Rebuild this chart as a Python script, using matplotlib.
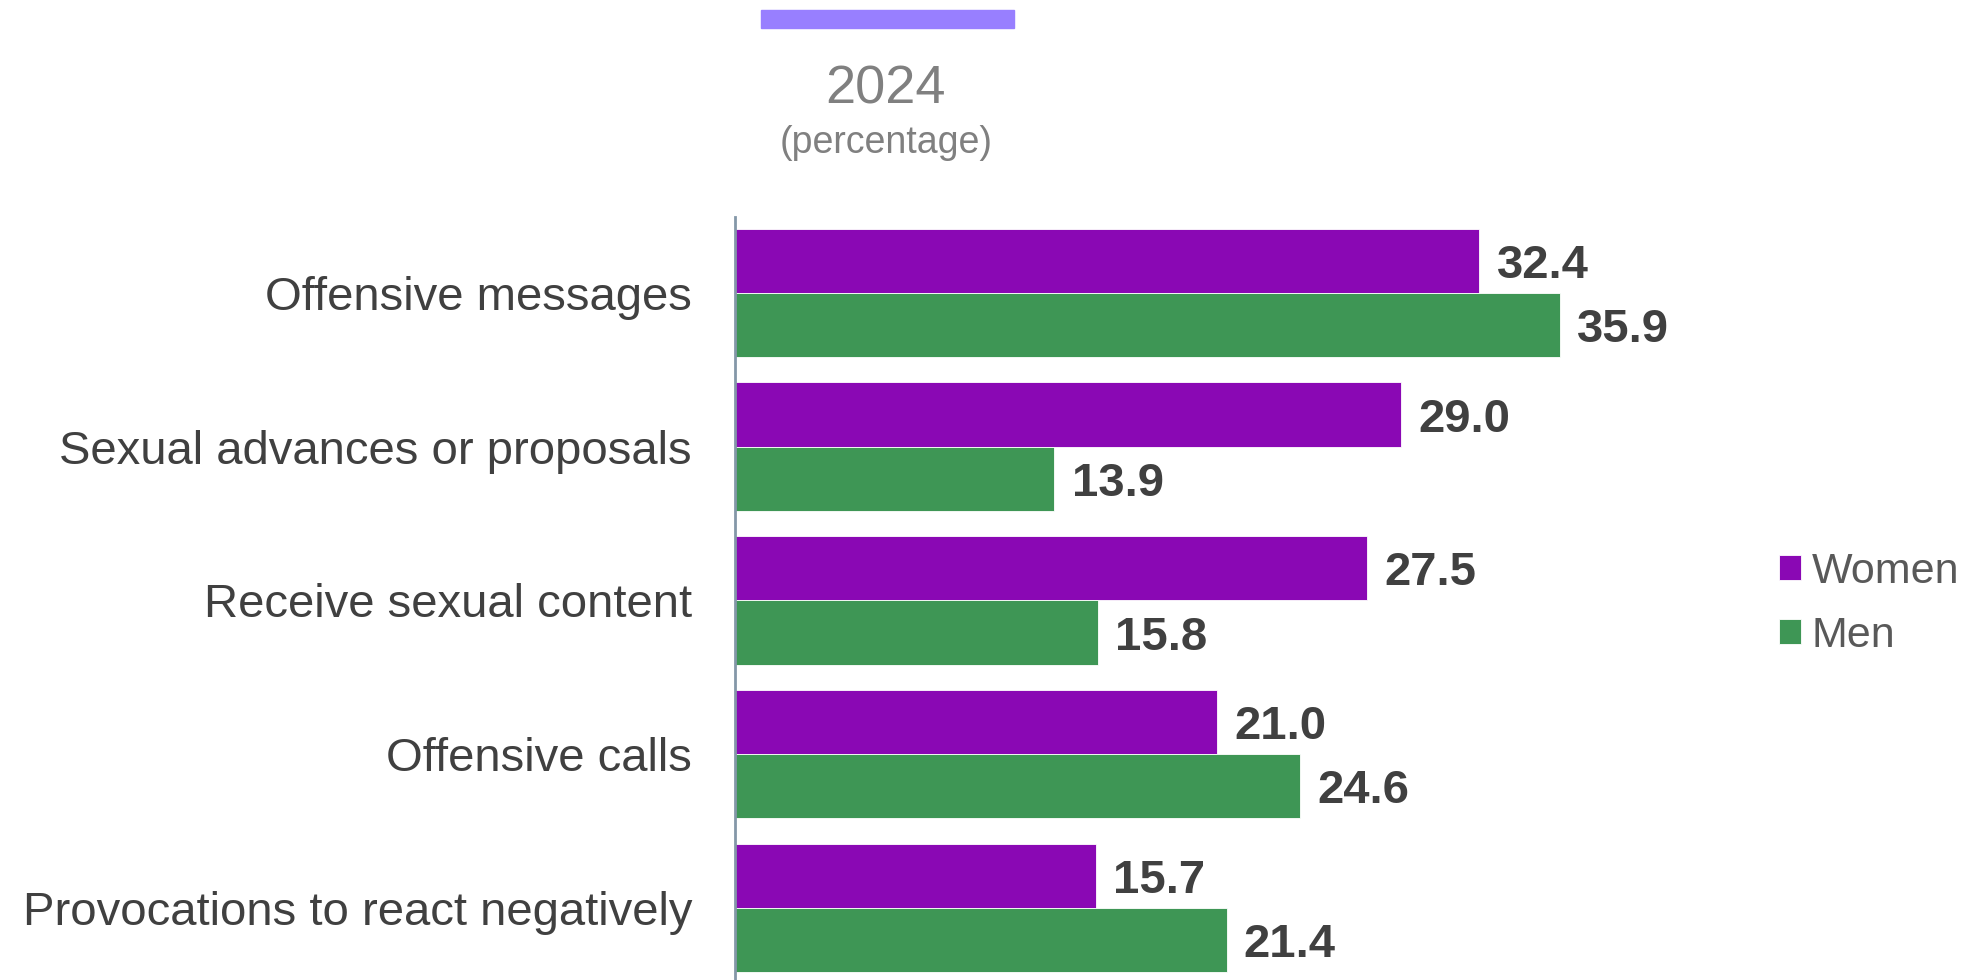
import matplotlib
matplotlib.use("Agg")
import matplotlib.pyplot as plt
from matplotlib.patches import Rectangle

categories = [
    "Offensive messages",
    "Sexual advances or proposals",
    "Receive sexual content",
    "Offensive calls",
    "Provocations to react negatively",
]
women = [32.4, 29.0, 27.5, 21.0, 15.7]
men = [35.9, 13.9, 15.8, 24.6, 21.4]
series_names = ["Women", "Men"]
title_year = "2024"
title_unit = "(percentage)"

WOMEN_COLOR = "#8A08B4"
MEN_COLOR = "#3E9655"
LABEL_COLOR = "#404040"

plt.rcParams["font.family"] = ["Liberation Sans", "DejaVu Sans"]

fig = plt.figure(figsize=(19.63, 9.80), dpi=100)
ax = fig.add_axes([0.3745, 0.0, 0.468, 0.7786])

bar_h = 0.418
ys = list(range(len(categories)))
bw = ax.barh([y - bar_h / 2 for y in ys], women, height=bar_h, color=WOMEN_COLOR,
             edgecolor="white", linewidth=0.6, label=series_names[0])
bm = ax.barh([y + bar_h / 2 for y in ys], men, height=bar_h, color=MEN_COLOR,
             edgecolor="white", linewidth=0.6, label=series_names[1])

for bars, vals in ((bw, women), (bm, men)):
    for b, v in zip(bars, vals):
        ax.text(v + 0.75, b.get_y() + b.get_height() / 2, f"{v:.1f}",
                va="center_baseline", ha="left", fontsize=34, fontweight="bold",
                color=LABEL_COLOR)

ax.set_xlim(0, 40)
ax.set_ylim(4.47, -0.495)
ax.set_yticks(ys)
ax.set_yticklabels(categories, fontsize=34, color=LABEL_COLOR)
ax.tick_params(axis="y", length=0, pad=31)
ax.set_xticks([])
for s in ("top", "right", "bottom"):
    ax.spines[s].set_visible(False)
ax.spines["left"].set_color("#8497A8")
ax.spines["left"].set_linewidth(2)

leg = fig.legend(loc="center left", bbox_to_anchor=(0.9063, 0.384), frameon=False,
                 fontsize=31, handlelength=0.5, handleheight=0.5,
                 handletextpad=0.25, labelspacing=0.55, borderpad=0,
                 borderaxespad=0)
for t in leg.get_texts():
    t.set_color("#595959")

# header: coloured strip plus year and unit
fig.patches.append(Rectangle((761 / 1963, 1 - 28 / 980), 253 / 1963, 18 / 980,
                             transform=fig.transFigure, color="#987FFF"))
fig.text(886 / 1963, 1 - 89 / 980, title_year, ha="center", va="center",
         fontsize=39, color="#808080")
fig.text(886 / 1963, 1 - 143 / 980, title_unit, ha="center", va="center",
         fontsize=27, color="#808080")

fig.savefig("out.png", dpi=100)
